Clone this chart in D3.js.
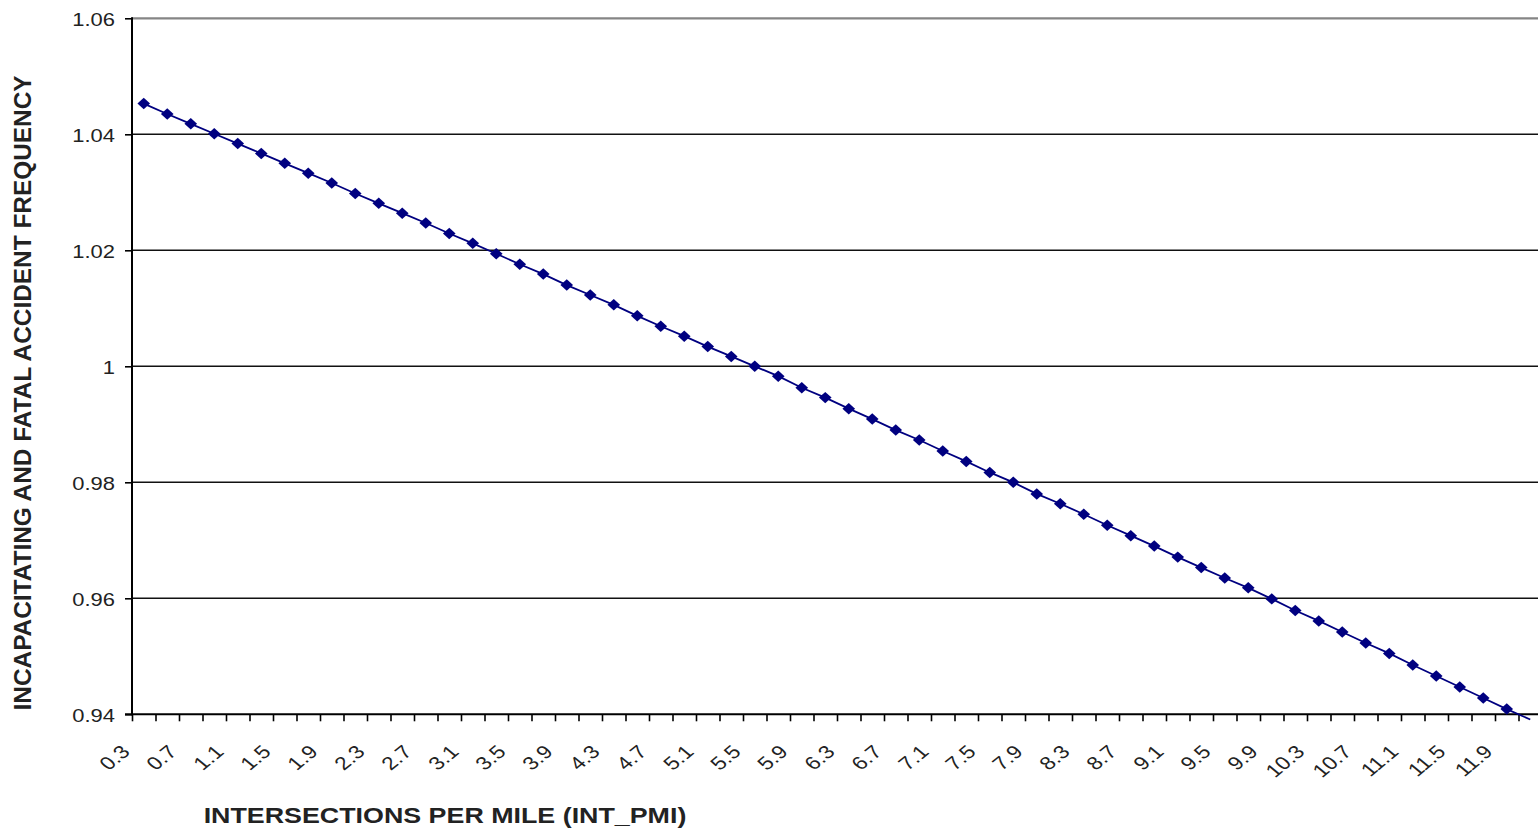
<!DOCTYPE html>
<html>
<head>
<meta charset="utf-8">
<script src="https://cdn.jsdelivr.net/npm/d3@7"></script>
<style>
  html, body { margin: 0; padding: 0; background: #fff; overflow: hidden; }
  svg { display: block; }
  text { font-family: "Liberation Sans", Arial, sans-serif; fill: #000; }
</style>
</head>
<body>
<svg id="chart" width="1538" height="829"></svg>
<script>
// ---- data ----
const categories = ["0.3","0.5","0.7","0.9","1.1","1.3","1.5","1.7","1.9","2.1",
  "2.3","2.5","2.7","2.9","3.1","3.3","3.5","3.7","3.9","4.1",
  "4.3","4.5","4.7","4.9","5.1","5.3","5.5","5.7","5.9","6.1",
  "6.3","6.5","6.7","6.9","7.1","7.3","7.5","7.7","7.9","8.1",
  "8.3","8.5","8.7","8.9","9.1","9.3","9.5","9.7","9.9","10.1",
  "10.3","10.5","10.7","10.9","11.1","11.3","11.5","11.7","11.9","12.1"];
const frequency = [1.0453, 1.0435, 1.0418, 1.0401, 1.0384, 1.0367, 1.0350, 1.0333, 1.0316, 1.0298,
  1.0281, 1.0264, 1.0247, 1.0229, 1.0212, 1.0194, 1.0176, 1.0159, 1.0140, 1.0123,
  1.0106, 1.0087, 1.0069, 1.0052, 1.0034, 1.0017, 1.0000, 0.9983, 0.9963, 0.9946,
  0.9927, 0.9909, 0.9890, 0.9873, 0.9854, 0.9836, 0.9817, 0.9800, 0.9780, 0.9763,
  0.9745, 0.9726, 0.9708, 0.9690, 0.9671, 0.9653, 0.9635, 0.9618, 0.9599, 0.9579,
  0.9561, 0.9542, 0.9523, 0.9505, 0.9485, 0.9466, 0.9447, 0.9428, 0.9409, 0.9391];
const xTickLabels = ["0.3","0.7","1.1","1.5","1.9","2.3","2.7","3.1","3.5","3.9",
  "4.3","4.7","5.1","5.5","5.9","6.3","6.7","7.1","7.5","7.9",
  "8.3","8.7","9.1","9.5","9.9","10.3","10.7","11.1","11.5","11.9"];
const yTickValues = [0.94, 0.96, 0.98, 1.00, 1.02, 1.04, 1.06];
const yTickLabels = ["0.94", "0.96", "0.98", "1", "1.02", "1.04", "1.06"];
const xTitle = "INTERSECTIONS PER MILE (INT_PMI)";
const yTitle = "INCAPACITATING AND FATAL ACCIDENT FREQUENCY";

// ---- layout ----
const svg = d3.select("#chart");
const plotLeft = 132, plotTop = 18.3, plotBottom = 714.3, plotRight = 1542;
const stretch = 1.22;

const x = d3.scaleBand().domain(categories).range([plotLeft, plotRight]).paddingInner(0).paddingOuter(0);
const xEdge = d3.scaleLinear().domain([0, categories.length]).range([plotLeft, plotRight]);
const y = d3.scaleLinear().domain([0.94, 1.06]).range([plotBottom, plotTop]);

// gridlines
svg.append("g").selectAll("line").data(yTickValues.filter(v => v > 0.94 && v < 1.06)).join("line")
  .attr("x1", plotLeft).attr("x2", plotRight)
  .attr("y1", d => y(d)).attr("y2", d => y(d))
  .attr("stroke", "#111").attr("stroke-width", 1.5);

// top plot border (grey)
svg.append("line").attr("x1", plotLeft).attr("x2", plotRight)
  .attr("y1", y(1.06)).attr("y2", y(1.06))
  .attr("stroke", "#858585").attr("stroke-width", 2.2);

// y axis
const yAxis = d3.axisLeft(y).tickValues(yTickValues).tickSize(7).tickFormat("");
const gy = svg.append("g").attr("transform", `translate(${plotLeft},0)`).call(yAxis);
gy.select(".domain").remove();
gy.selectAll(".tick line").attr("stroke", "#000").attr("stroke-width", 1.6);
svg.append("line").attr("x1", plotLeft).attr("x2", plotLeft).attr("y1", y(1.06) - 1).attr("y2", plotBottom + 1)
  .attr("stroke", "#000").attr("stroke-width", 2);

// y tick labels
svg.append("g").selectAll("text").data(yTickValues).join("text")
  .attr("transform", d => `translate(115,${y(d) + 1}) scale(${stretch},1)`)
  .attr("text-anchor", "end").attr("dy", "0.35em")
  .style("font-size", "18px").style("fill", "#222")
  .text((d, i) => yTickLabels[i]);

// x axis
const xAxis = d3.axisBottom(xEdge).tickValues(d3.range(categories.length + 1)).tickSize(7).tickFormat("");
const gx = svg.append("g").attr("transform", `translate(0,${plotBottom})`).call(xAxis);
gx.select(".domain").remove();
gx.selectAll(".tick line").attr("stroke", "#000").attr("stroke-width", 1.6);
svg.append("line").attr("x1", plotLeft - 7).attr("x2", plotRight).attr("y1", plotBottom).attr("y2", plotBottom)
  .attr("stroke", "#000").attr("stroke-width", 2);

// x tick labels (rotated)
svg.append("g").selectAll("text").data(xTickLabels).join("text")
  .attr("transform", d => `translate(${x(d) - 1},753) scale(${stretch},1) rotate(-45)`)
  .attr("text-anchor", "end")
  .style("font-size", "18.5px").style("fill", "#222")
  .text(d => d);

// series line
const pts = categories.map((c, i) => ({c, v: frequency[i]}));
const line = d3.line().x(d => x(d.c) + x.bandwidth() / 2).y(d => y(d.v));
svg.append("path").datum(pts).attr("d", line)
  .attr("fill", "none").attr("stroke", "#000080").attr("stroke-width", 1.8);

// markers (only within the axis range)
const sym = d3.symbol().type(d3.symbolSquare).size(66);
svg.append("g").selectAll("path").data(pts.filter(d => d.v >= 0.94)).join("path")
  .attr("d", sym)
  .attr("transform", d => `translate(${x(d.c) + x.bandwidth() / 2},${y(d.v)}) scale(1.1,1) rotate(45)`)
  .attr("fill", "#000080");

// axis titles
svg.append("text")
  .attr("transform", `translate(445,823) scale(${stretch},1)`)
  .attr("text-anchor", "middle")
  .style("font-size", "22px").style("font-weight", "bold").style("fill", "#222")
  .text(xTitle);

svg.append("text")
  .attr("transform", `translate(31,393) scale(${stretch},1) rotate(-90)`)
  .attr("text-anchor", "middle")
  .style("font-size", "19px").style("font-weight", "bold").style("fill", "#222")
  .attr("textLength", 635).attr("lengthAdjust", "spacingAndGlyphs")
  .text(yTitle);
</script>
</body>
</html>
